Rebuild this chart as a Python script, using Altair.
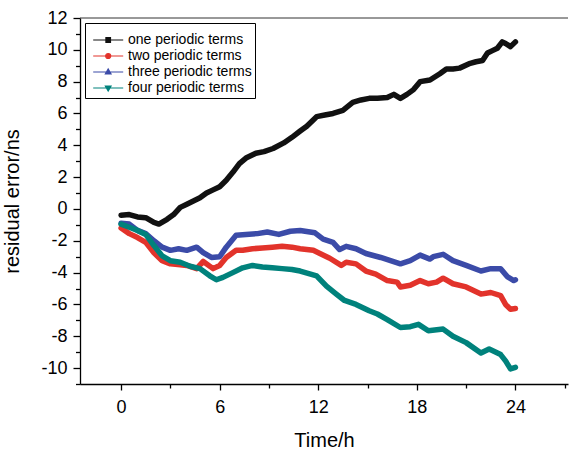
import altair as alt
import pandas as pd

series_names = ["one periodic terms", "two periodic terms", "three periodic terms", "four periodic terms"]
series_colors = ["#111111", "#e2332b", "#3b4ba8", "#00827c"]

t_one = [0, 0.5, 1.0, 1.5, 2.0, 2.3, 2.8, 3.2, 3.6, 4.0, 4.4, 4.8, 5.2, 5.6, 6.0, 6.4, 6.8, 7.2, 7.6, 8.2, 8.7,
         9.25, 9.9, 10.4, 10.9, 11.3, 11.9, 12.4, 12.9, 13.5, 14.1, 14.6, 15.1, 15.6, 16.2, 16.6, 17.0, 17.4, 17.8,
         18.2, 18.8, 19.4, 19.8, 20.2, 20.6, 21.25, 21.6, 22.0, 22.3, 22.6, 22.9, 23.2, 23.4, 23.7, 24.0]
v_one = [-0.4, -0.35, -0.5, -0.55, -0.85, -0.95, -0.65, -0.35, 0.1, 0.3, 0.5, 0.7, 1.0, 1.2, 1.4, 1.8, 2.3,
         2.85, 3.2, 3.5, 3.6, 3.8, 4.15, 4.5, 4.9, 5.2, 5.8, 5.9, 6.0, 6.2, 6.7, 6.85, 6.95, 6.95, 7.0, 7.2, 6.95,
         7.2, 7.5, 8.0, 8.1, 8.5, 8.8, 8.8, 8.85, 9.15, 9.25, 9.33, 9.8, 9.95, 10.1, 10.5, 10.4, 10.2, 10.5]

t_two = [0, 0.5, 1.0, 1.5, 2.0, 2.5, 3.0, 3.6, 4.0, 4.6, 5.0, 5.6, 6.0, 6.4, 7.0, 7.4, 8.0, 8.6, 9.2, 9.8, 10.4,
         10.9, 11.7, 12.1, 12.7, 13.4, 13.7, 14.3, 14.9, 15.5, 16.2, 16.8, 17.0, 17.6, 18.2, 18.7, 19.2, 19.6,
         20.2, 21.0, 21.9, 22.5, 23.1, 23.4, 23.7, 24.0]
v_two = [-1.2, -1.55, -1.8, -2.1, -2.75, -3.25, -3.45, -3.5, -3.55, -3.75, -3.3, -3.75, -3.55, -3.05, -2.6,
         -2.6, -2.5, -2.45, -2.4, -2.35, -2.4, -2.5, -2.6, -2.8, -3.1, -3.55, -3.35, -3.45, -3.9, -4.1, -4.5,
         -4.6, -4.9, -4.8, -4.5, -4.7, -4.6, -4.35, -4.7, -4.9, -5.35, -5.25, -5.45, -6.0, -6.3, -6.25]

t_three = [0, 0.5, 1.0, 1.5, 2.0, 2.5, 3.0, 3.5, 4.0, 4.6, 5.0, 5.5, 6.0, 6.4, 7.0, 7.6, 8.3, 8.9, 9.6, 10.3,
           10.9, 11.8, 12.3, 12.9, 13.3, 13.7, 14.3, 14.9, 15.8, 16.4, 17.0, 17.6, 18.2, 18.8, 19.0, 19.6, 20.2,
           21.0, 21.9, 22.5, 23.1, 23.5, 23.9, 24.0]
v_three = [-0.9, -0.95, -1.35, -1.55, -2.0, -2.4, -2.6, -2.5, -2.6, -2.4, -2.75, -3.05, -3.0, -2.4, -1.65, -1.6,
           -1.55, -1.45, -1.6, -1.4, -1.35, -1.5, -1.9, -2.1, -2.55, -2.35, -2.5, -2.8, -3.05, -3.25, -3.45,
           -3.25, -2.9, -3.15, -3.0, -2.85, -3.25, -3.55, -3.9, -3.75, -3.75, -4.25, -4.5, -4.45]

t_four = [0, 0.5, 1.0, 1.5, 2.0, 2.5, 3.0, 3.6, 4.2, 4.8, 5.4, 5.8, 6.2, 6.8, 7.4, 8.0, 8.6, 9.2, 9.8, 10.4,
          10.9, 11.9, 12.5, 13.1, 13.6, 14.3, 15.1, 15.6, 16.2, 17.0, 17.6, 18.1, 18.7, 19.6, 20.2, 21.0, 21.9,
          22.4, 23.1, 23.4, 23.7, 24.0]
v_four = [-0.95, -1.15, -1.35, -1.6, -2.3, -2.95, -3.25, -3.35, -3.6, -3.75, -4.2, -4.45, -4.3, -4.0, -3.7,
          -3.55, -3.65, -3.7, -3.75, -3.8, -3.9, -4.2, -4.85, -5.35, -5.75, -6.0, -6.4, -6.6, -6.95, -7.45, -7.4,
          -7.25, -7.65, -7.55, -8.0, -8.4, -9.05, -8.8, -9.15, -9.55, -10.05, -9.95]

x_ticks = [0, 3, 6, 9, 12, 15, 18, 21, 24, 27]
y_ticks = list(range(-11, 13))
y_top = [12]

rows = []
for name, ts, vs in zip(series_names, [t_one, t_two, t_three, t_four], [v_one, v_two, v_three, v_four]):
    for i, (t, v) in enumerate(zip(ts, vs)):
        rows.append({"series": name, "time": t, "err": v, "order": i})
df = pd.DataFrame(rows)

FONT = "Liberation Sans"
# invisible spacer title that sets the legend box width
SPACER = "\u00a0" * 92

# legend symbols: short line + marker (custom SVG paths)
line_part = "M-0.3,0H4.7"
sym_paths = [
    line_part + "M1.82,-0.38H2.58V0.38H1.82Z",
    line_part + "M2.62,0A0.42,0.42 0 1 1 1.78,0A0.42,0.42 0 1 1 2.62,0Z",
    line_part + "M2.2,-0.5L2.67,0.33L1.73,0.33Z",
    line_part + "M2.2,0.5L2.67,-0.33L1.73,-0.33Z",
]

legend = alt.Legend(
    title=SPACER,
    titleFontSize=7,
    titleFont=FONT,
    titleLimit=400,
    titlePadding=0,
    orient="none",
    legendX=5,
    legendY=5,
    padding=3,
    strokeColor="#000000",
    fillColor="#ffffff",
    labelFont=FONT,
    labelFontSize=14,
    labelColor="#000000",
    labelOffset=26,
    symbolSize=144,
    symbolStrokeWidth=1.2,
    symbolOpacity=1,
    rowPadding=2,
)

x_axis = alt.Axis(
    values=x_ticks,
    labelExpr="datum.value % 6 === 0 ? '' + datum.value : ''",
    tickSize={"condition": {"test": "datum.value % 6 !== 0", "value": 4}, "value": 6},
    grid=False,
    title="Time/h",
    titleFontSize=20,
    titleFont=FONT,
    titleFontWeight="normal",
    titleColor="#000000",
    titlePadding=14,
    labelFont=FONT,
    labelFontSize=18,
    labelColor="#000000",
    labelPadding=8,
    labelFlush=False,
    labelOverlap=False,
    domainColor="#000000",
    domainWidth=1.3,
    tickColor="#000000",
    tickWidth=1.3,
)
y_axis = alt.Axis(
    values=y_ticks,
    labelExpr="datum.value % 2 === 0 ? '' + datum.value : ''",
    tickSize={"condition": {"test": "datum.value % 2 !== 0", "value": 4.5}, "value": 7},
    grid=False,
    title="residual error/ns",
    titleFontSize=20,
    titleFont=FONT,
    titleFontWeight="normal",
    titleColor="#000000",
    titlePadding=18,
    labelFont=FONT,
    labelFontSize=18,
    labelColor="#000000",
    labelPadding=6,
    labelFlush=False,
    labelOverlap=False,
    domainColor="#000000",
    domainWidth=1.3,
    tickColor="#000000",
    tickWidth=1.3,
)

xenc = alt.X("time:Q", scale=alt.Scale(domain=[-2.5, 27.2], nice=False, zero=False), axis=x_axis)
yenc = alt.Y("err:Q", scale=alt.Scale(domain=[-11, 12], nice=False, zero=False), axis=y_axis)
col_scale = alt.Scale(domain=series_names, range=series_colors)

lines = alt.Chart(df).mark_line(strokeWidth=5.5, strokeCap="round", strokeJoin="round").encode(
    x=xenc,
    y=yenc,
    color=alt.Color("series:N", scale=col_scale, legend=legend),
    order="order:Q",
)

# legend-only layer (no rows drawn): gives the line + marker symbols
legend_layer = alt.Chart(df).transform_filter("false").mark_point(filled=True, size=144, opacity=1).encode(
    x=xenc,
    y=yenc,
    fill=alt.Fill("series:N", scale=col_scale, legend=legend),
    shape=alt.Shape("series:N", scale=alt.Scale(domain=series_names, range=sym_paths), legend=legend),
)

top_line = alt.Chart(pd.DataFrame({"err": y_top})).mark_rule(color="#333333", strokeWidth=1).encode(
    y=yenc
)

chart = alt.layer(lines, legend_layer, top_line).properties(
    width=488,
    height=366,
    padding={"left": 80, "top": 18, "right": 1, "bottom": 68},
    autosize=alt.AutoSizeParams(type="none"),
    background="#ffffff",
).configure_view(stroke=None)

chart.save("out.html", embed_options={"renderer": "svg", "actions": False})
